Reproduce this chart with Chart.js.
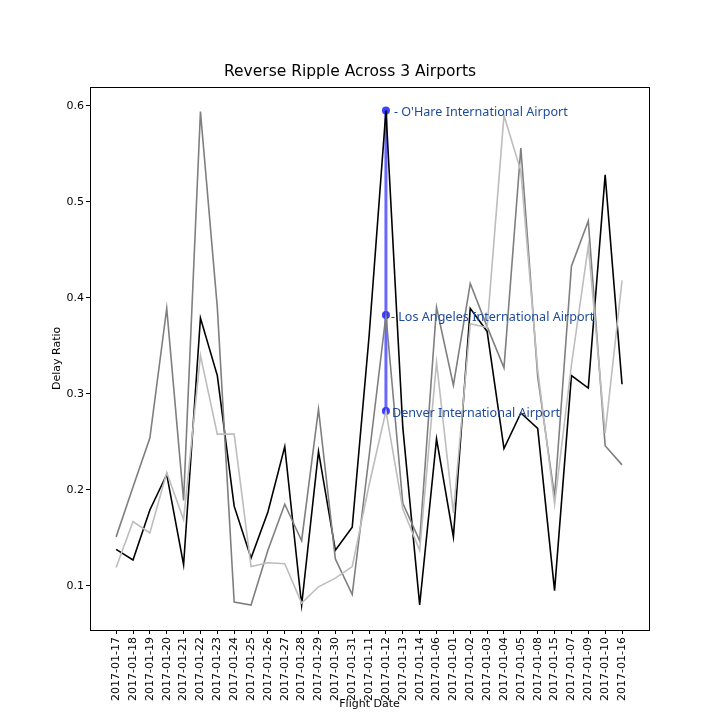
<!DOCTYPE html>
<html>
<head>
<meta charset="utf-8">
<script src="https://cdn.jsdelivr.net/npm/chart.js@4.4.1/dist/chart.umd.min.js"></script>
<style>
  html, body { margin: 0; padding: 0; background: #fff; }
  #chart { display: block; }
</style>
</head>
<body>
<canvas id="chart" width="720" height="720"></canvas>
<script>
const dates = ["2017-01-17", "2017-01-18", "2017-01-19", "2017-01-20", "2017-01-21", "2017-01-22",
  "2017-01-23", "2017-01-24", "2017-01-25", "2017-01-26", "2017-01-27", "2017-01-28", "2017-01-29",
  "2017-01-30", "2017-01-31", "2017-01-11", "2017-01-12", "2017-01-13", "2017-01-14", "2017-01-06",
  "2017-01-01", "2017-01-02", "2017-01-03", "2017-01-04", "2017-01-05", "2017-01-08", "2017-01-15",
  "2017-01-07", "2017-01-09", "2017-01-10", "2017-01-16"];

const ohare = [0.138, 0.127, 0.179, 0.216, 0.122, 0.379, 0.319, 0.183, 0.129, 0.177, 0.245, 0.080,
  0.240, 0.137, 0.161, 0.360, 0.595, 0.265, 0.080, 0.253, 0.151, 0.389, 0.365, 0.243, 0.280, 0.264,
  0.095, 0.319, 0.306, 0.528, 0.310];

const losAngeles = [0.151, 0.203, 0.254, 0.389, 0.189, 0.594, 0.390, 0.083, 0.080, 0.137, 0.185, 0.147,
  0.284, 0.128, 0.091, 0.235, 0.382, 0.186, 0.147, 0.390, 0.309, 0.415, 0.370, 0.327, 0.556, 0.318,
  0.193, 0.433, 0.480, 0.246, 0.226];

const denver = [0.119, 0.167, 0.155, 0.218, 0.169, 0.340, 0.258, 0.258, 0.120, 0.124, 0.123, 0.082,
  0.099, 0.108, 0.120, 0.205, 0.282, 0.180, 0.137, 0.333, 0.176, 0.373, 0.369, 0.590, 0.532, 0.325,
  0.185, 0.330, 0.454, 0.259, 0.418];

const yTicks = [0.1, 0.2, 0.3, 0.4, 0.5, 0.6];

// highlighted date and the labels next to its points
const rippleDate = "2017-01-12";
const rippleLabels = ["- O'Hare International Airport", "- Los Angeles International Airport", "Denver International Airport"];

const toPoints = arr => arr.map((v, i) => ({ x: i, y: v }));
const ri = dates.indexOf(rippleDate);
const rippleValues = [ohare[ri], losAngeles[ri], denver[ri]];

const frame = {
  id: "frame",
  afterDatasetsDraw(chart) {
    const a = chart.chartArea, ctx = chart.ctx;
    ctx.save();
    ctx.strokeStyle = "#000";
    ctx.lineWidth = 1;
    ctx.strokeRect(Math.round(a.left) + 0.5, Math.round(a.top) + 0.5,
      Math.round(a.right - a.left), Math.round(a.bottom - a.top));
    ctx.restore();
  }
};

const rippleText = {
  id: "rippleText",
  afterDatasetsDraw(chart) {
    const ctx = chart.ctx, xs = chart.scales.x, ys = chart.scales.y;
    ctx.save();
    ctx.font = "12.6px 'Noto Sans'";
    ctx.fillStyle = "#1c4a9c";
    ctx.textBaseline = "middle";
    ctx.textAlign = "left";
    const offs = [8, 5, 6];
    rippleValues.forEach((v, k) => {
      ctx.fillText(rippleLabels[k], xs.getPixelForValue(ri) + offs[k], ys.getPixelForValue(v) + 2);
    });
    ctx.restore();
  }
};

const line = (label, arr, color) => ({
  label: label,
  data: toPoints(arr),
  borderColor: color,
  borderWidth: 1.6,
  pointRadius: 0,
  tension: 0,
  fill: false
});

new Chart("chart", {
  type: "line",
  data: {
    datasets: [
      line("Denver International Airport", denver, "#bdbdbd"),
      line("Los Angeles International Airport", losAngeles, "#7f7f7f"),
      line("O'Hare International Airport", ohare, "#000000"),
      {
        label: "ripple",
        data: rippleValues.map(v => ({ x: ri, y: v })),
        borderColor: "rgba(40,40,255,0.7)",
        backgroundColor: "rgba(30,30,255,0.85)",
        borderWidth: 3,
        pointRadius: 4,
        pointBorderWidth: 0,
        tension: 0
      }
    ]
  },
  options: {
    responsive: false,
    animation: false,
    devicePixelRatio: 1,
    layout: { padding: { left: 51, right: 71, top: 0, bottom: 8 } },
    plugins: {
      legend: { display: false },
      tooltip: { enabled: false },
      title: {
        display: true,
        text: "Reverse Ripple Across 3 Airports",
        color: "#000",
        font: { family: "'DejaVu Sans'", size: 15.5, weight: "normal" },
        padding: { top: 63, bottom: 5 }
      }
    },
    scales: {
      x: {
        type: "linear",
        min: -1.55,
        max: 31.6,
        afterBuildTicks: s => { s.ticks = dates.map((d, i) => ({ value: i })); },
        afterFit: s => { s.height = 82; },
        grid: { drawOnChartArea: false, drawTicks: true, tickLength: 4, color: "#000" },
        border: { display: false },
        ticks: {
          autoSkip: false,
          minRotation: 90,
          maxRotation: 90,
          padding: 3,
          color: "#000",
          font: { family: "'DejaVu Sans'", size: 11 },
          callback: v => dates[v]
        },
        title: {
          display: true,
          text: "Flight Date",
          color: "#000",
          font: { family: "'DejaVu Sans'", size: 11 },
          padding: { top: 0, bottom: 1 }
        }
      },
      y: {
        min: 0.054,
        max: 0.62,
        afterBuildTicks: s => { s.ticks = yTicks.map(v => ({ value: v })); },
        afterFit: s => { s.width = 39; },
        grid: { drawOnChartArea: false, drawTicks: true, tickLength: 4, color: "#000" },
        border: { display: false },
        ticks: {
          padding: 2,
          color: "#000",
          font: { family: "'DejaVu Sans'", size: 11 },
          callback: v => v.toFixed(1)
        },
        title: {
          display: true,
          text: "Delay Ratio",
          color: "#000",
          font: { family: "'DejaVu Sans'", size: 11 },
          padding: 0
        }
      }
    }
  },
  plugins: [frame, rippleText]
});
</script>
</body>
</html>
